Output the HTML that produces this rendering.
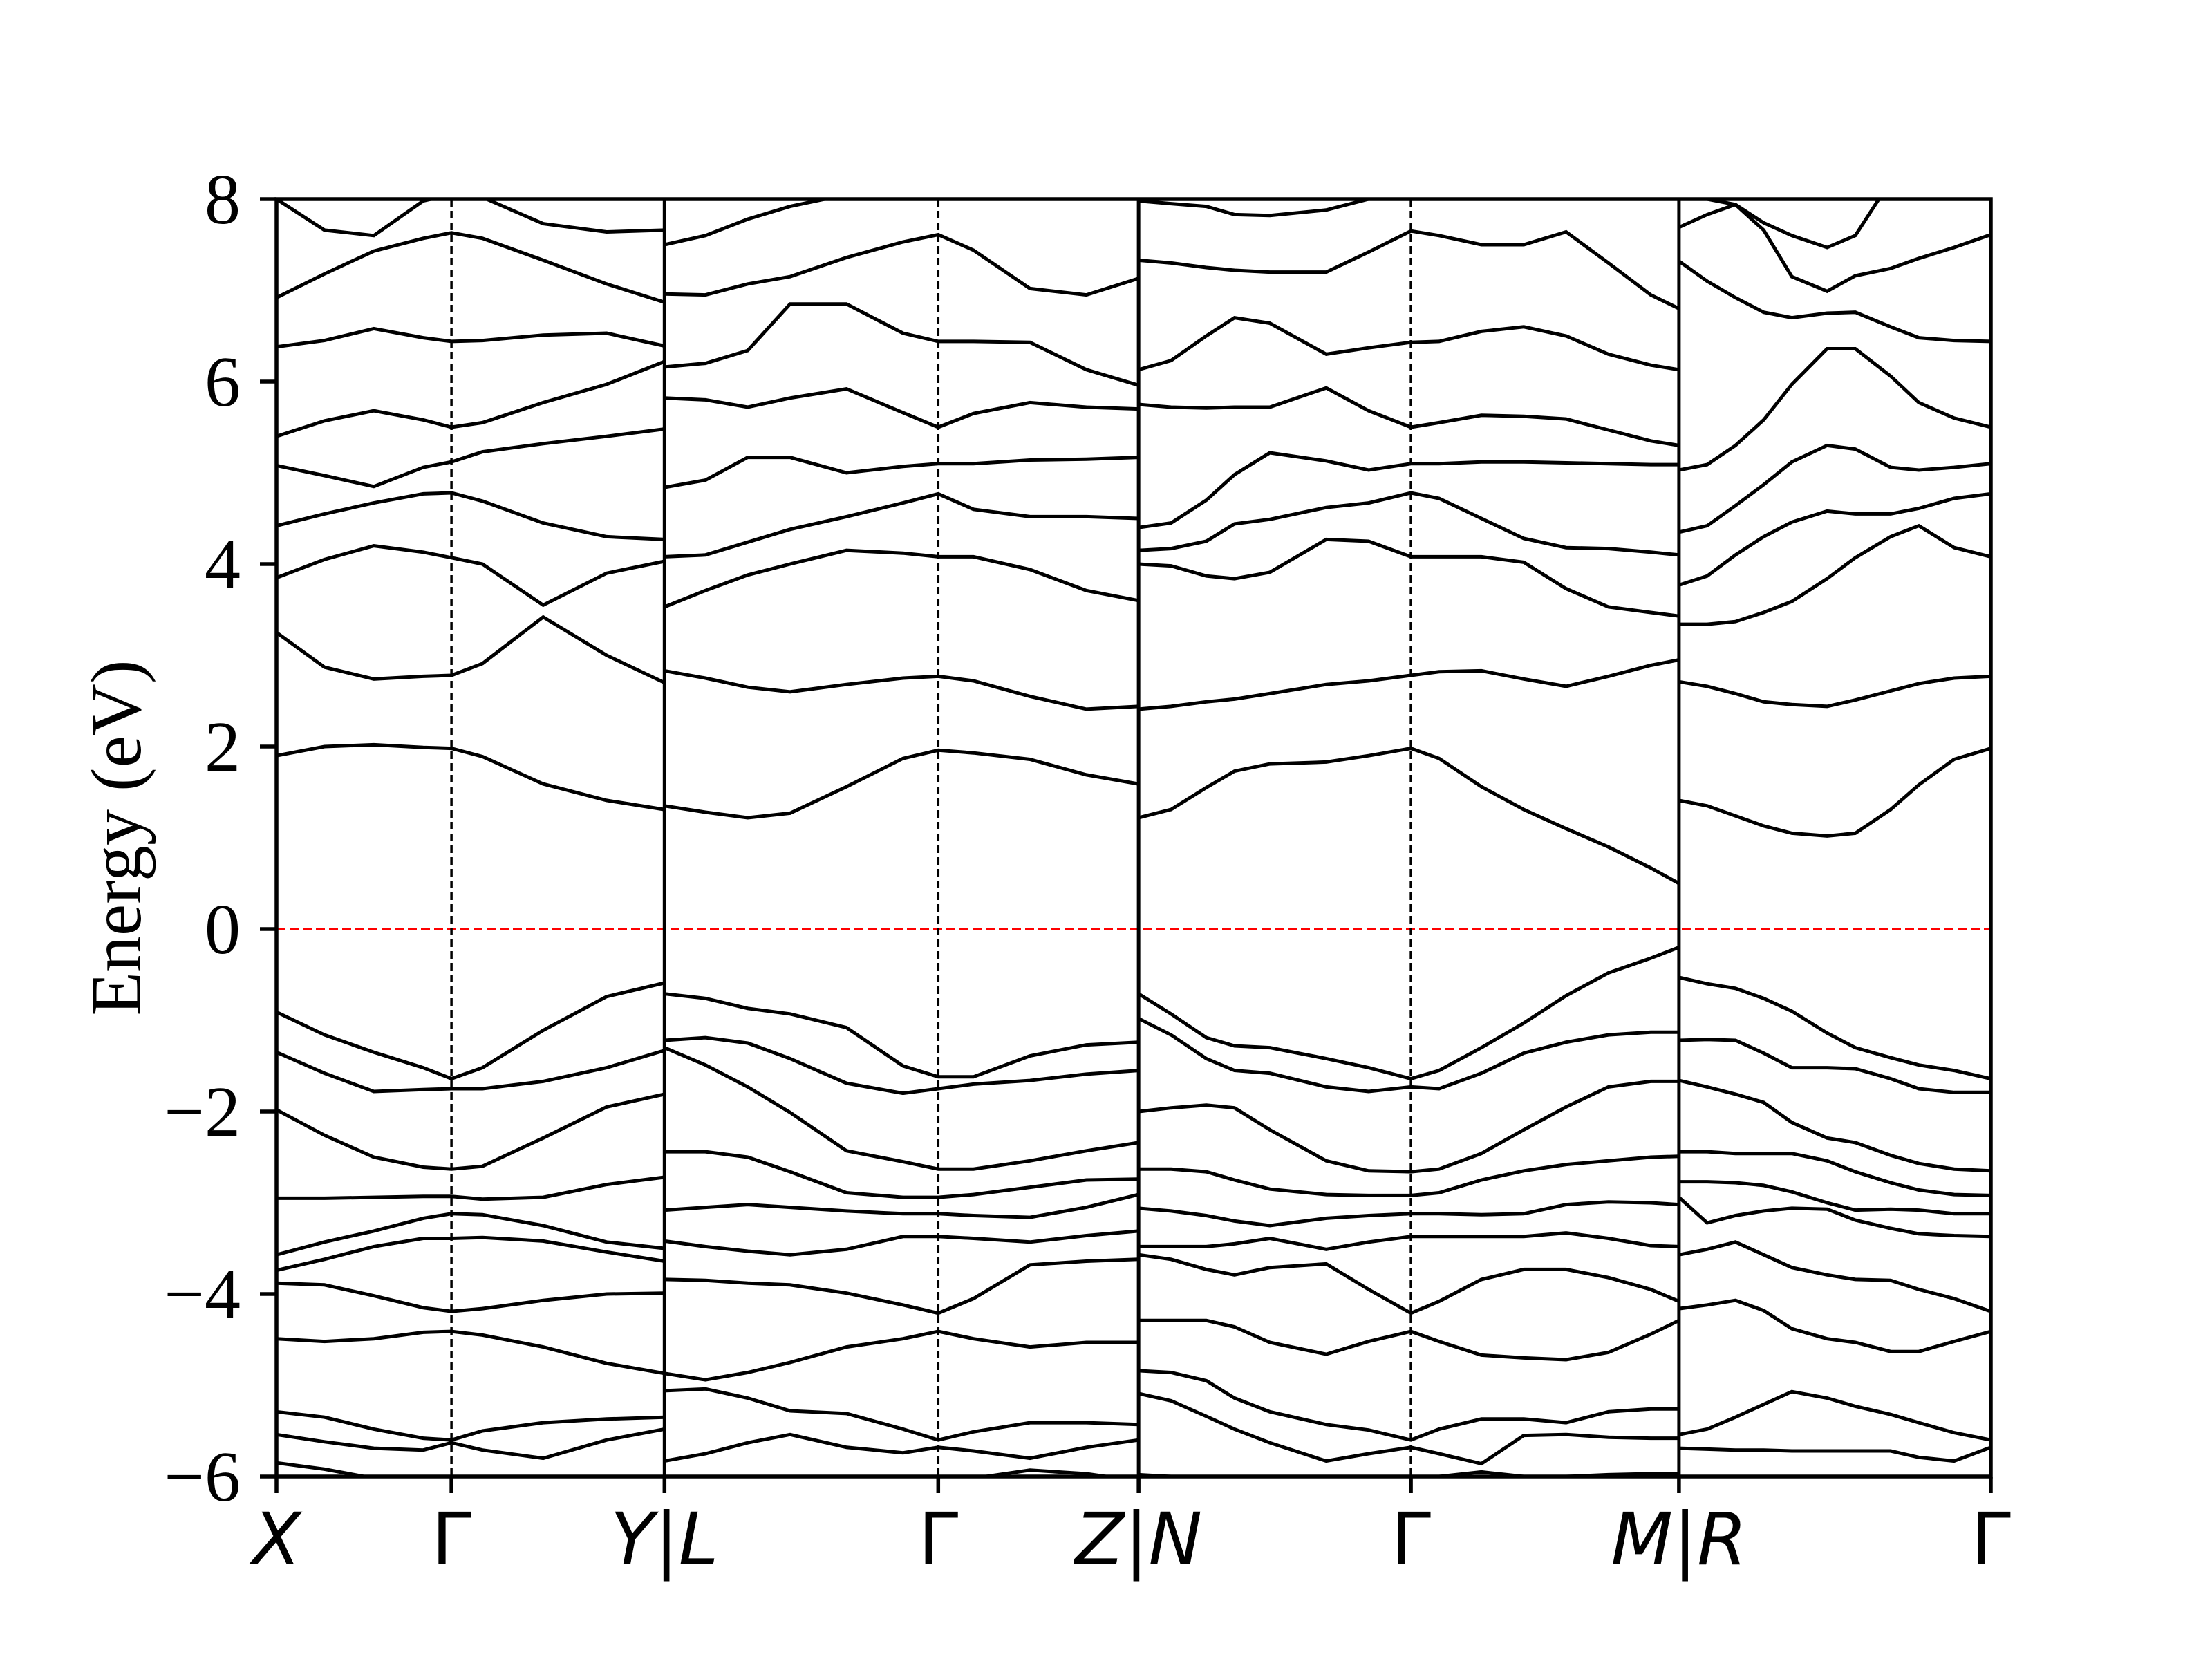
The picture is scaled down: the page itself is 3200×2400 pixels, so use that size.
<!DOCTYPE html>
<html><head><meta charset="utf-8"><style>
html,body{margin:0;padding:0;background:#fff;}
svg{display:block;}
</style></head><body>
<svg id="chart" width="3200" height="2400" viewBox="0 0 3200 2400" xmlns="http://www.w3.org/2000/svg">
<defs><clipPath id="plotclip"><rect x="400" y="288" width="2480" height="1848"/></clipPath></defs>
<rect x="0" y="0" width="3200" height="2400" fill="#fff"/>
<g id="bands" clip-path="url(#plotclip)"></g>
<g id="axes"></g>
</svg>
<script>
// k-path coordinates (arbitrary path units)
const kTicks = [196, 320, 471, 665, 807, 1000, 1190, 1411];
const kTickLabels = ["X", "Γ", "Y|L", "Γ", "Z|N", "Γ", "M|R", "Γ"];
const gammaK = [320, 665, 1000, 1411];
const breakK = [471, 807, 1190];
const yTicks = [8, 6, 4, 2, 0, -2, -4, -6];
const yMin = -6, yMax = 8;

// Panel 1: X-Γ-Y
const k1 = [196,230,265,300,320,342,385,430,471];
const p1 = [
 [1.90,2.00,2.02,1.99,1.98,1.89,1.59,1.41,1.31],
 [3.25,2.87,2.74,2.77,2.78,2.91,3.42,3.00,2.70],
 [3.85,4.05,4.20,4.13,4.07,4.00,3.55,3.90,4.03],
 [4.42,4.55,4.67,4.77,4.78,4.69,4.45,4.30,4.27],
 [5.08,4.97,4.85,5.06,5.12,5.23,5.32,5.40,5.48],
 [5.40,5.57,5.68,5.58,5.50,5.55,5.77,5.97,6.22],
 [6.38,6.45,6.58,6.48,6.44,6.45,6.51,6.53,6.39],
 [6.92,7.18,7.43,7.57,7.63,7.57,7.33,7.07,6.87],
 [8.00,7.66,7.60,7.98,8.05,8.02,7.73,7.64,7.66],
 [-0.91,-1.16,-1.35,-1.52,-1.64,-1.52,-1.11,-0.74,-0.59],
 [-1.35,-1.58,-1.78,-1.76,-1.75,-1.75,-1.67,-1.52,-1.33],
 [-1.98,-2.26,-2.50,-2.61,-2.63,-2.60,-2.29,-1.95,-1.81],
 [-2.95,-2.95,-2.94,-2.93,-2.93,-2.96,-2.94,-2.80,-2.72],
 [-3.57,-3.43,-3.31,-3.17,-3.12,-3.13,-3.25,-3.43,-3.50],
 [-3.74,-3.62,-3.48,-3.39,-3.39,-3.38,-3.42,-3.54,-3.64],
 [-3.88,-3.90,-4.02,-4.15,-4.19,-4.16,-4.07,-4.00,-3.99],
 [-4.49,-4.52,-4.49,-4.42,-4.41,-4.45,-4.58,-4.76,-4.87],
 [-5.29,-5.35,-5.48,-5.58,-5.60,-5.50,-5.41,-5.37,-5.35],
 [-5.54,-5.62,-5.69,-5.71,-5.63,-5.71,-5.80,-5.60,-5.48],
 [-5.85,-5.92,-6.02,-6.10,-6.10,-6.10,-6.10,-6.10,-6.10]
];

// Panel 2: L-Γ-Z
const k2 = [471,500,530,560,600,640,665,690,730,770,807];
const p2 = [
 [1.35,1.28,1.22,1.27,1.56,1.87,1.96,1.93,1.86,1.69,1.59],
 [2.83,2.75,2.65,2.60,2.68,2.75,2.77,2.72,2.55,2.41,2.44],
 [3.53,3.71,3.88,4.00,4.15,4.12,4.08,4.08,3.94,3.71,3.60],
 [4.08,4.10,4.24,4.38,4.52,4.67,4.77,4.60,4.52,4.52,4.50],
 [4.84,4.92,5.17,5.17,5.00,5.07,5.10,5.10,5.14,5.15,5.17],
 [5.82,5.80,5.72,5.82,5.92,5.66,5.50,5.65,5.77,5.72,5.70],
 [6.16,6.20,6.34,6.85,6.85,6.53,6.44,6.44,6.43,6.13,5.96],
 [6.96,6.95,7.07,7.15,7.36,7.53,7.61,7.44,7.02,6.95,7.13],
 [7.50,7.60,7.78,7.92,8.05,8.20,8.20,8.20,8.20,8.20,8.20],
 [-0.71,-0.76,-0.87,-0.93,-1.08,-1.50,-1.62,-1.62,-1.39,-1.27,-1.24],
 [-1.22,-1.19,-1.25,-1.42,-1.69,-1.80,-1.75,-1.70,-1.66,-1.59,-1.55],
 [-1.30,-1.49,-1.73,-2.01,-2.43,-2.55,-2.63,-2.63,-2.54,-2.43,-2.34],
 [-2.44,-2.44,-2.50,-2.66,-2.89,-2.94,-2.94,-2.91,-2.83,-2.75,-2.74],
 [-3.08,-3.05,-3.02,-3.05,-3.09,-3.12,-3.12,-3.14,-3.16,-3.05,-2.91],
 [-3.42,-3.48,-3.53,-3.57,-3.51,-3.37,-3.37,-3.39,-3.43,-3.36,-3.31],
 [-3.84,-3.85,-3.88,-3.90,-3.99,-4.12,-4.21,-4.05,-3.68,-3.64,-3.62],
 [-4.87,-4.94,-4.86,-4.75,-4.58,-4.49,-4.41,-4.49,-4.58,-4.53,-4.53],
 [-5.06,-5.04,-5.14,-5.28,-5.31,-5.48,-5.60,-5.51,-5.41,-5.41,-5.43],
 [-5.83,-5.75,-5.63,-5.54,-5.68,-5.74,-5.68,-5.72,-5.80,-5.68,-5.60],
 [-6.05,-6.05,-6.05,-6.05,-6.05,-6.05,-6.05,-6.02,-5.93,-5.97,-6.05]
];

// Panel 3: N-Γ-M
const k3 = [807,830,855,875,900,940,970,1000,1020,1050,1080,1110,1140,1170,1190];
const p3 = [
 [1.22,1.31,1.55,1.73,1.81,1.83,1.90,1.98,1.87,1.56,1.31,1.10,0.90,0.67,0.50],
 [2.41,2.44,2.49,2.52,2.58,2.68,2.72,2.78,2.82,2.83,2.74,2.66,2.77,2.89,2.95],
 [4.00,3.98,3.87,3.84,3.91,4.27,4.25,4.08,4.08,4.08,4.02,3.73,3.53,3.47,3.43],
 [4.15,4.17,4.25,4.44,4.49,4.62,4.67,4.78,4.72,4.50,4.28,4.18,4.17,4.13,4.10],
 [4.40,4.45,4.70,4.98,5.22,5.13,5.03,5.10,5.10,5.12,5.12,5.11,5.10,5.09,5.09],
 [5.75,5.72,5.71,5.72,5.72,5.93,5.68,5.50,5.55,5.63,5.62,5.59,5.47,5.35,5.30],
 [6.13,6.23,6.50,6.70,6.64,6.30,6.37,6.43,6.44,6.55,6.60,6.50,6.30,6.18,6.13],
 [7.33,7.30,7.25,7.22,7.20,7.20,7.42,7.65,7.60,7.50,7.50,7.64,7.30,6.95,6.80],
 [7.98,7.95,7.92,7.83,7.82,7.88,8.00,8.01,8.01,8.01,8.01,8.01,8.01,8.01,8.01],
 [-0.71,-0.93,-1.19,-1.28,-1.30,-1.42,-1.52,-1.64,-1.55,-1.30,-1.03,-0.73,-0.48,-0.32,-0.20],
 [-0.98,-1.16,-1.42,-1.55,-1.58,-1.73,-1.78,-1.73,-1.75,-1.58,-1.36,-1.24,-1.16,-1.13,-1.13],
 [-2.00,-1.96,-1.93,-1.96,-2.20,-2.54,-2.65,-2.66,-2.63,-2.46,-2.20,-1.95,-1.73,-1.67,-1.67],
 [-2.63,-2.63,-2.66,-2.75,-2.85,-2.91,-2.92,-2.92,-2.89,-2.75,-2.65,-2.58,-2.54,-2.50,-2.49],
 [-3.06,-3.09,-3.14,-3.20,-3.25,-3.17,-3.14,-3.12,-3.12,-3.13,-3.12,-3.02,-2.99,-3.00,-3.02],
 [-3.48,-3.48,-3.48,-3.45,-3.39,-3.51,-3.43,-3.37,-3.37,-3.37,-3.37,-3.33,-3.39,-3.47,-3.48],
 [-3.57,-3.62,-3.73,-3.79,-3.71,-3.67,-3.95,-4.21,-4.08,-3.84,-3.73,-3.73,-3.82,-3.95,-4.08],
 [-4.29,-4.29,-4.29,-4.36,-4.53,-4.66,-4.52,-4.41,-4.52,-4.67,-4.70,-4.72,-4.64,-4.44,-4.29],
 [-4.84,-4.86,-4.95,-5.14,-5.29,-5.43,-5.49,-5.60,-5.48,-5.37,-5.37,-5.41,-5.29,-5.26,-5.26],
 [-5.09,-5.17,-5.34,-5.48,-5.63,-5.83,-5.75,-5.68,-5.75,-5.86,-5.55,-5.54,-5.57,-5.58,-5.58],
 [-5.98,-6.00,-6.05,-6.05,-6.05,-6.05,-6.05,-6.05,-6.00,-5.95,-6.00,-6.00,-5.98,-5.97,-5.97]
];

// Panel 4: R-Γ
const k4 = [1190,1210,1230,1250,1270,1295,1315,1340,1360,1385,1411];
const p4 = [
 [1.41,1.35,1.24,1.13,1.05,1.02,1.05,1.31,1.58,1.86,1.98],
 [2.71,2.66,2.58,2.49,2.46,2.44,2.51,2.61,2.69,2.75,2.77],
 [3.34,3.34,3.37,3.47,3.59,3.84,4.07,4.30,4.42,4.18,4.08],
 [3.77,3.87,4.10,4.30,4.46,4.58,4.55,4.55,4.61,4.72,4.77],
 [4.35,4.42,4.64,4.87,5.12,5.30,5.26,5.06,5.03,5.06,5.10],
 [5.03,5.09,5.30,5.58,5.97,6.36,6.36,6.06,5.77,5.60,5.50],
 [7.32,7.10,6.92,6.76,6.70,6.75,6.76,6.60,6.48,6.45,6.44],
 [7.69,7.83,7.94,7.66,7.15,6.99,7.16,7.24,7.35,7.47,7.61],
 [8.05,8.00,7.94,7.74,7.60,7.47,7.60,8.20,8.20,8.20,8.20],
 [-0.53,-0.60,-0.65,-0.76,-0.90,-1.14,-1.30,-1.41,-1.49,-1.55,-1.64],
 [-1.22,-1.21,-1.22,-1.36,-1.52,-1.52,-1.53,-1.64,-1.75,-1.79,-1.79],
 [-1.66,-1.73,-1.81,-1.90,-2.12,-2.29,-2.34,-2.48,-2.57,-2.63,-2.65],
 [-2.44,-2.44,-2.46,-2.46,-2.46,-2.54,-2.66,-2.78,-2.86,-2.91,-2.92],
 [-2.77,-2.77,-2.78,-2.81,-2.88,-3.00,-3.08,-3.07,-3.08,-3.12,-3.12],
 [-2.94,-3.22,-3.14,-3.09,-3.06,-3.07,-3.19,-3.28,-3.34,-3.36,-3.37],
 [-3.57,-3.51,-3.43,-3.57,-3.71,-3.79,-3.84,-3.85,-3.95,-4.05,-4.19],
 [-4.16,-4.12,-4.07,-4.18,-4.38,-4.49,-4.53,-4.63,-4.63,-4.52,-4.41],
 [-5.54,-5.48,-5.35,-5.21,-5.07,-5.14,-5.23,-5.32,-5.41,-5.52,-5.60],
 [-5.69,-5.70,-5.71,-5.71,-5.72,-5.72,-5.72,-5.72,-5.79,-5.83,-5.68]
];

const panelK = [k1, k2, k3, k4];
const panelBands = [p1, p2, p3, p4];

const PX0 = 400, PX1 = 2880, PY0 = 288, PY1 = 2136;
const kMin = kTicks[0], kMax = kTicks[kTicks.length - 1];
function xScale(k) { return PX0 + (k - kMin) / (kMax - kMin) * (PX1 - PX0); }
function yScale(e) { return PY0 + (yMax - e) / (yMax - yMin) * (PY1 - PY0); }

const NS = "http://www.w3.org/2000/svg";
const bandsG = document.getElementById("bands");
const axesG = document.getElementById("axes");
function mk(tag, attrs, parent) {
  const el = document.createElementNS(NS, tag);
  for (const a in attrs) el.setAttribute(a, attrs[a]);
  parent.appendChild(el);
  return el;
}

// Fermi level
const fermi = mk("line", {x1: PX0, x2: PX1, y1: yScale(0), y2: yScale(0), stroke: "#ff0000", "stroke-width": 3.5, "stroke-dasharray": "13 6"}, bandsG);



// Gamma dashed lines
gammaK.slice(0, 3).forEach(function (k) {
  const l = mk("line", {x1: xScale(k), x2: xScale(k), y1: PY0, y2: PY1, stroke: "#000", "stroke-width": 3.5, "stroke-dasharray": "11 6"}, bandsG);
  
  
});

// Bands
panelBands.forEach(function (bands, pi) {
  const ks = panelK[pi];
  bands.forEach(function (vals, bi) {
    let d = "";
    vals.forEach(function (e, i) { d += (i ? "L" : "M") + xScale(ks[i]).toFixed(1) + " " + yScale(e).toFixed(1); });
    const p = mk("path", {d: d, fill: "none", stroke: "#000", "stroke-width": 5, "stroke-linejoin": "miter"}, bandsG);
    
    
  });
});

// Panel separators
breakK.forEach(function (k) {
  const l = mk("line", {x1: xScale(k), x2: xScale(k), y1: PY0, y2: PY1, stroke: "#000", "stroke-width": 5}, axesG);
  
  
});

// Frame
const frame = mk("rect", {x: PX0, y: PY0, width: PX1 - PX0, height: PY1 - PY0, fill: "none", stroke: "#000", "stroke-width": 5.5}, axesG);



// Y ticks
yTicks.forEach(function (v) {
  const y = yScale(v);
  const t = mk("line", {x1: PX0 - 24, x2: PX0, y1: y, y2: y, stroke: "#000", "stroke-width": 5.5}, axesG);
  
  
  const tx = mk("text", {x: 348, y: y + 35, "text-anchor": "end", "font-family": "'Liberation Serif', serif", "font-size": 104, fill: "#000"}, axesG);
  tx.textContent = v < 0 ? "\u2212" + Math.abs(v) : String(v);
  
  
});

// X ticks
kTicks.forEach(function (k, i) {
  const x = xScale(k);
  const t = mk("line", {x1: x, x2: x, y1: PY1, y2: PY1 + 24, stroke: "#000", "stroke-width": 5.5}, axesG);
  
  
  const lab = kTickLabels[i];
  const tx = mk("text", {x: x, y: 2263, "text-anchor": "middle", "font-family": "'DejaVu Sans', sans-serif", "font-size": 104, fill: "#000"}, axesG);
  if (lab === "Γ") {
    tx.textContent = lab;
  } else {
    const parts = lab.split("|");
    parts.forEach(function (pt, j) {
      if (j > 0) {
        const bar = mk("tspan", {"font-style": "normal"}, tx);
        bar.textContent = "|";
      }
      const sp = mk("tspan", {"font-style": "italic"}, tx);
      sp.textContent = pt;
    });
  }
  
  
});

// Y axis title
const yt = mk("text", {x: 0, y: 0, "text-anchor": "middle", "font-family": "'Liberation Serif', serif", "font-size": 104, fill: "#000", transform: "translate(203," + ((PY0 + PY1) / 2) + ") rotate(-90)"}, axesG);
yt.textContent = "Energy (eV)";


</script>
</body></html>
